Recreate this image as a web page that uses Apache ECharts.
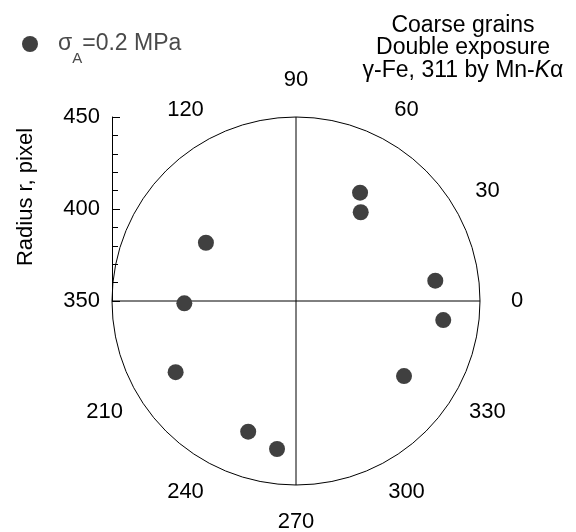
<!DOCTYPE html>
<html>
<head>
<meta charset="utf-8">
<script src="https://cdn.jsdelivr.net/npm/echarts@6/dist/echarts.min.js"></script>
<style>
	html, body { margin: 0; padding: 0; background: #fff; }
	#chart { width: 576px; height: 532px; }
</style>
</head>
<body>
<div id="chart"></div>
<script>
	// spots: radius r (pixel) and azimuth (deg)
	const radii = [418.4, 409.7, 426.5, 430.7, 421.5, 431.1, 425.6, 426.0, 410.7, 408.3]
	const angles = [59.4, 53.9, 8.3, 352.6, 325.2, 262.7, 249.9, 210.6, 181.2, 147.1]

	const angleTicks = [0, 30, 60, 90, 120, 210, 240, 270, 300, 330]
	const radiusTicks = [350, 400, 450]
	const seriesName = 'sigmaA'

	const FONT = '"Liberation Sans", Arial, sans-serif'
	const FS = 22
	const CX = 296, CY = 301, R = 184, R_LABEL = 221

	// angle axis labels are anchored on the ring, pad them so they sit centered at R_LABEL
	function angleLabelStyle(deg) {
		const t = deg * Math.PI / 180
		const c = Math.cos(t), s = Math.sin(t)
		const ax = R * c, ay = -R * s
		const tx = R_LABEL * c, ty = -R_LABEL * s
		const w = String(deg).length * 0.556 * FS, h = FS
		const hAlign = Math.abs(c) < 0.3 ? 'center' : (c > 0 ? 'left' : 'right')
		const vAlign = Math.abs(s) < 0.3 ? 'middle' : (ay > 0 ? 'top' : 'bottom')
		let pl = 0, pr = 0, pt = 0, pb = 0
		if (hAlign === 'left') pl = tx - w / 2 - ax
		else if (hAlign === 'right') pr = ax - (tx + w / 2)
		else { const d = tx - ax; if (d > 0) pl = 2 * d; else pr = -2 * d }
		// text is drawn centred in its padded line box, so vertical padding counts half
		if (vAlign === 'top') pt = 2 * (ty - h / 2 - ay)
		else if (vAlign === 'bottom') pb = 2 * (ay - (ty + h / 2))
		else { const d = ty - ay; if (d > 0) pt = 2 * d; else pb = -2 * d }
		const m = v => Math.max(0, v)
		return {
			fontSize: FS,
			fontFamily: FONT,
			color: '#000',
			lineHeight: h,
			padding: [m(pt), m(pr), m(pb), m(pl)]
		}
	}

	const angleRich = {}
	angleTicks.forEach(d => { angleRich['a' + d] = angleLabelStyle(d) })

	const chart = echarts.init(document.getElementById('chart'), null, { renderer: 'canvas' })

	chart.setOption({
		animation: false,
		textStyle: { fontFamily: FONT },
		title: {
			text: 'Coarse grains\nDouble exposure\nγ-Fe, 311 by Mn-{i|K}α',
			left: 463,
			top: 14,
			padding: 0,
			textAlign: 'center',
			textStyle: {
				fontSize: 23,
				fontWeight: 'normal',
				fontFamily: FONT,
				color: '#000',
				lineHeight: 22.5,
				rich: {
					i: { fontSize: 23, fontStyle: 'italic', fontFamily: FONT, color: '#000', lineHeight: 22.5 }
				}
			}
		},
		legend: {
			data: [seriesName],
			left: 22,
			top: 22,
			padding: 0,
			itemWidth: 16,
			itemHeight: 16,
			icon: 'circle',
			formatter: () => '{s|σ}{sub|A}{t|=0.2 MPa}',
			textStyle: {
				color: '#4a4a4a',
				rich: {
					s: { fontSize: 23, fontFamily: FONT, color: '#4a4a4a', lineHeight: 22, padding: [0, 0, 0, 15] },
					sub: { fontSize: 15, fontFamily: FONT, color: '#4a4a4a', lineHeight: 15, padding: [29, 0, 0, 0] },
					t: { fontSize: 23, fontFamily: FONT, color: '#4a4a4a', lineHeight: 22 }
				}
			}
		},
		grid: {
			left: 112,
			top: 117,
			height: 184,
			width: 368
		},
		xAxis: { type: 'value', show: false },
		yAxis: {
			type: 'value',
			min: radiusTicks[0],
			max: radiusTicks[radiusTicks.length - 1],
			interval: radiusTicks[1] - radiusTicks[0],
			name: 'Radius r, pixel',
			nameLocation: 'middle',
			nameRotate: 90,
			nameGap: 75,
			nameTextStyle: { fontSize: FS, fontFamily: FONT, color: '#000', padding: [0, 0, 0, 24] },
			axisLine: { show: true, lineStyle: { color: '#000', width: 1 } },
			axisTick: { show: true, inside: true, length: 8, lineStyle: { color: '#000' } },
			minorTick: { show: true, splitNumber: 5, length: 6, lineStyle: { color: '#000' } },
			axisLabel: { fontSize: FS, fontFamily: FONT, color: '#000', margin: 12 },
			splitLine: { show: false }
		},
		polar: [
			{ center: [CX, CY], radius: R },
			{ center: [CX, CY], radius: R }
		],
		angleAxis: [
			{
				polarIndex: 0,
				type: 'value',
				min: 0,
				max: 360,
				interval: 30,
				startAngle: 0,
				clockwise: false,
				axisLine: { show: true, lineStyle: { color: '#000', width: 1 } },
				axisTick: { show: false },
				splitLine: { show: false },
				axisLabel: {
					margin: 0,
					formatter: v => angleTicks.includes(v) ? '{a' + v + '|' + v + '}' : '',
					rich: angleRich
				}
			},
			{
				polarIndex: 1,
				type: 'value',
				min: 0,
				max: 360,
				interval: 90,
				startAngle: 0,
				clockwise: false,
				axisLine: { show: false },
				axisTick: { show: false },
				axisLabel: { show: false },
				splitLine: { show: true, lineStyle: { color: '#000', width: 1 } }
			}
		],
		radiusAxis: [
			{ polarIndex: 0, type: 'value', min: radiusTicks[0], max: radiusTicks[radiusTicks.length - 1], show: false },
			{ polarIndex: 1, type: 'value', min: radiusTicks[0], max: radiusTicks[radiusTicks.length - 1], show: false }
		],
		series: [{
			name: seriesName,
			type: 'scatter',
			coordinateSystem: 'polar',
			polarIndex: 0,
			symbol: 'circle',
			symbolSize: 16,
			itemStyle: { color: '#404040', opacity: 1 },
			data: radii.map((r, i) => [r, angles[i]])
		}]
	})
</script>
</body>
</html>
